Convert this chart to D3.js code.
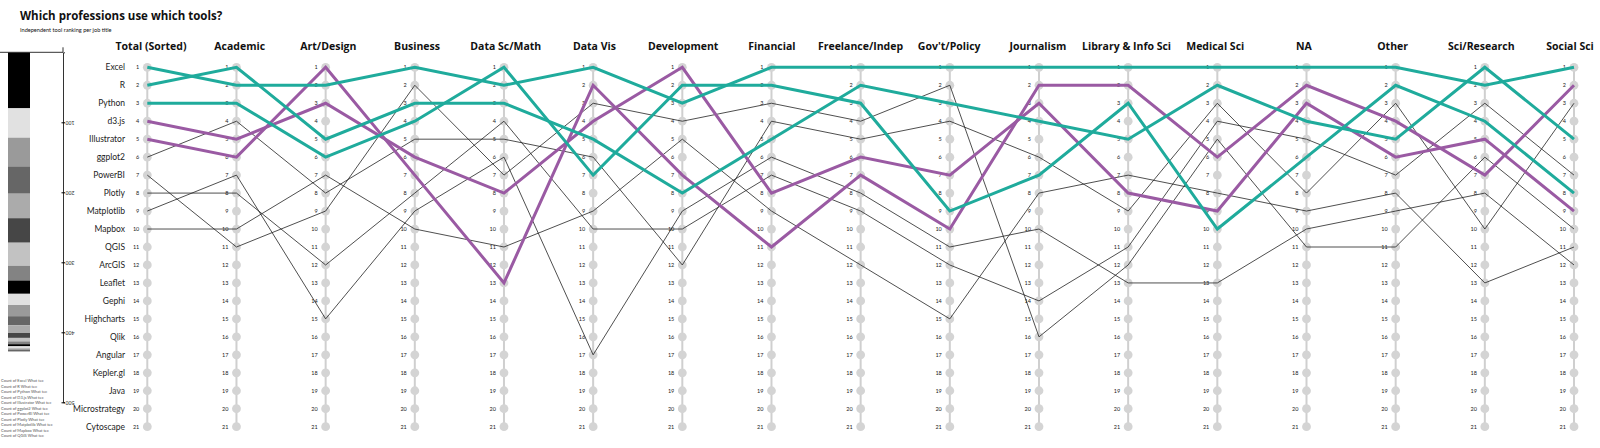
<!DOCTYPE html>
<html>
<head>
<meta charset="utf-8">
<script src="https://cdn.jsdelivr.net/npm/d3@7"></script>
<style>
  body { margin: 0; background: #fff; font-family: Lato, "Open Sans", sans-serif; }
</style>
</head>
<body>
<div id="chart"></div>
<script>
var svgWidth = 1600;
var svgHeight = 448;

// tools, in total rank order
var tools = ["Excel", "R", "Python", "d3.js", "Illustrator", "ggplot2", "PowerBI", "Plotly",
  "Matplotlib", "Mapbox", "QGIS", "ArcGIS", "Leaflet", "Gephi", "Highcharts", "Qlik",
  "Angular", "Kepler.gl", "Java", "Microstrategy", "Cytoscape"];

var jobs = ["Total (Sorted)", "Academic", "Art/Design", "Business", "Data Sc/Math", "Data Vis",
  "Development", "Financial", "Freelance/Indep", "Gov't/Policy", "Journalism",
  "Library & Info Sci", "Medical Sci", "NA", "Other", "Sci/Research", "Social Sci"];

// total number of respondents using each tool
var toolCounts = [80, 42, 41, 39, 35, 35, 33, 21, 19, 16, 16, 13, 11, 7, 5, 4, 3, 3, 2, 2, 1];

// legend names used in the little stacked bar
var legendNames = ["Excel", "R", "Python", "D3.js", "Illustrator", "ggplot2", "PowerBI",
  "Plotly", "Matplotlib", "Mapbox", "QGIS"];

// rank of each tracked tool in each job column
var excelRanks      = [1, 2, 2, 1, 2, 1, 3, 1, 1, 1, 1, 1, 1, 1, 1, 2, 1];
var rRanks          = [2, 1, 5, 3, 3, 5, 8, 5, 2, 3, 4, 5, 2, 4, 5, 1, 5];
var pythonRanks     = [3, 3, 6, 4, 1, 7, 2, 2, 3, 9, 7, 3, 10, 6, 2, 4, 8];
var d3Ranks         = [4, 5, 3, 6, 8, 4, 1, 8, 6, 7, 3, 8, 9, 3, 6, 5, 9];
var illustratorRanks= [5, 6, 1, 7, 13, 2, 7, 11, 7, 10, 2, 2, 6, 2, 4, 7, 2];
var ggplotRanks     = [6, 4, 8, 5, 5, 6, 12, 4, 5, 4, 6, 9, 3, 8, 3, 10, 3];
var powerbiRanks    = [7, 11, 9, 2, 7, 3, 4, 3, 4, 2, 16, 12, 5, 11, 11, 6, 10];
var plotlyRanks     = [8, 8, 12, 8, 4, 10, 10, 7, 9, 12, 14, 11, 4, 5, 7, 3, 7];
var matplotlibRanks = [9, 7, 15, 9, 6, 17, 9, 6, 8, 11, 10, 13, 13, 10, 9, 8, 12];
var mapboxRanks     = [10, 10, 7, 10, 11, 9, 5, 9, 12, 15, 8, 7, 8, 9, 8, 13, 11];

var tracked = [
  { name: "Excel", ranks: excelRanks, group: "teal" },
  { name: "R", ranks: rRanks, group: "teal" },
  { name: "Python", ranks: pythonRanks, group: "teal" },
  { name: "d3.js", ranks: d3Ranks, group: "purple" },
  { name: "Illustrator", ranks: illustratorRanks, group: "purple" },
  { name: "ggplot2", ranks: ggplotRanks, group: "other" },
  { name: "PowerBI", ranks: powerbiRanks, group: "other" },
  { name: "Plotly", ranks: plotlyRanks, group: "other" },
  { name: "Matplotlib", ranks: matplotlibRanks, group: "other" },
  { name: "Mapbox", ranks: mapboxRanks, group: "other" }
];

var lineColor = { teal: "#1fab9c", purple: "#9a5aa3", other: "#222" };
var lineWidth = { teal: 3, purple: 3, other: 0.8 };

var svg = d3.select("#chart")
  .append("svg")
  .attr("width", svgWidth)
  .attr("height", svgHeight);

// titles
svg.append("text")
  .attr("x", 20).attr("y", 20)
  .attr("font-family", "'Open Sans', sans-serif")
  .attr("font-size", "11.5px").attr("font-weight", "bold").attr("fill", "#111")
  .text("Which professions use which tools?");

svg.append("text")
  .attr("x", 20).attr("y", 32)
  .attr("font-size", "5.6px").attr("fill", "#111")
  .text("Independent tool ranking per job title");

// scales
var xScale = d3.scalePoint().domain(jobs).range([147.3, 1574]);
var headerScale = d3.scalePoint().domain(jobs).range([151, 1570]);
var ranks = d3.range(1, tools.length + 1);
var yScale = d3.scaleLinear().domain([1, 21]).range([67.3, 426.7]);

// stacked bar of totals on the left
var barScale = d3.scaleLinear().domain([0, 500]).range([52.3, 402.3]);
var barColors = ["#000000", "#e1e1e1", "#9a9a9a", "#666666", "#ababab", "#464646", "#c2c2c2", "#838383"];
var stackStart = d3.cumsum([0].concat(toolCounts));

var barGroup = svg.append("g");
barGroup.selectAll("rect")
  .data(toolCounts)
  .enter()
  .append("rect")
  .attr("x", 8)
  .attr("width", 22)
  .attr("y", (d, i) => barScale(stackStart[i]))
  .attr("height", (d, i) => barScale(stackStart[i] + d) - barScale(stackStart[i]))
  .attr("fill", (d, i) => barColors[i % barColors.length]);

barGroup.append("line")
  .attr("x1", 0).attr("x2", 63)
  .attr("y1", barScale(0)).attr("y2", barScale(0))
  .attr("stroke", "#333").attr("stroke-width", 1);

var barAxis = barGroup.append("g")
  .attr("transform", "translate(63,0)")
  .call(d3.axisRight(barScale).tickValues([100, 200, 300, 400, 500]).tickSize(2));
barAxis.select(".domain").attr("stroke", "#333");
barAxis.selectAll(".tick line").attr("x1", -1.5);
barAxis.selectAll(".tick text")
  .attr("x", 7)
  .attr("text-anchor", "middle")
  .attr("font-size", "5.5px").attr("fill", "#333")
  .attr("transform", "rotate(180,7,0)");

barGroup.append("line")
  .attr("x1", 63).attr("x2", 63)
  .attr("y1", barScale(0) - 5).attr("y2", barScale(0))
  .attr("stroke", "#333");

// small legend below the bar
var legendGroup = svg.append("g");
legendGroup.selectAll("text")
  .data(legendNames)
  .enter()
  .append("text")
  .attr("x", 1)
  .attr("y", (d, i) => 382 + i * 5.5)
  .attr("font-size", "4px")
  .attr("fill", "#555")
  .text(d => "Count of " + d + " What tec");

// column axes
var axisGroup = svg.append("g");
jobs.forEach(function(job) {
  var x = xScale(job);
  axisGroup.append("line")
    .attr("x1", x).attr("x2", x)
    .attr("y1", yScale(1)).attr("y2", yScale(21))
    .attr("stroke", "#cfcfcf").attr("stroke-width", 2);

  axisGroup.selectAll(null)
    .data(ranks)
    .enter()
    .append("circle")
    .attr("cx", x)
    .attr("cy", d => yScale(d))
    .attr("r", 4.4)
    .attr("fill", "#d4d4d4");

  axisGroup.selectAll(null)
    .data(ranks)
    .enter()
    .append("text")
    .attr("x", x - 8)
    .attr("y", d => yScale(d) + 2)
    .attr("text-anchor", "end")
    .attr("font-size", "5.5px")
    .attr("fill", "#222")
    .text(d => d);

  axisGroup.append("text")
    .attr("x", headerScale(job))
    .attr("y", 50)
    .attr("text-anchor", "middle")
    .attr("font-family", "'Open Sans', sans-serif")
    .attr("font-size", "10.5px")
    .attr("font-weight", "bold")
    .attr("fill", "#111")
    .text(job);
});

// tool names next to the total column
svg.append("g")
  .selectAll("text")
  .data(tools)
  .enter()
  .append("text")
  .attr("x", 125)
  .attr("y", (d, i) => yScale(i + 1) + 3)
  .attr("text-anchor", "end")
  .attr("font-size", "8.5px")
  .attr("fill", "#222")
  .text(d => d);

// rank lines
var line = d3.line()
  .x((d, i) => xScale(jobs[i]))
  .y(d => yScale(d));

var order = tracked.filter(d => d.group === "other")
  .concat(tracked.filter(d => d.group === "purple"))
  .concat(tracked.filter(d => d.group === "teal"));

svg.append("g")
  .selectAll("path")
  .data(order)
  .enter()
  .append("path")
  .attr("d", d => line(d.ranks))
  .attr("fill", "none")
  .attr("stroke", d => lineColor[d.group])
  .attr("stroke-width", d => lineWidth[d.group])
  .attr("stroke-linejoin", "miter");
</script>
</body>
</html>
